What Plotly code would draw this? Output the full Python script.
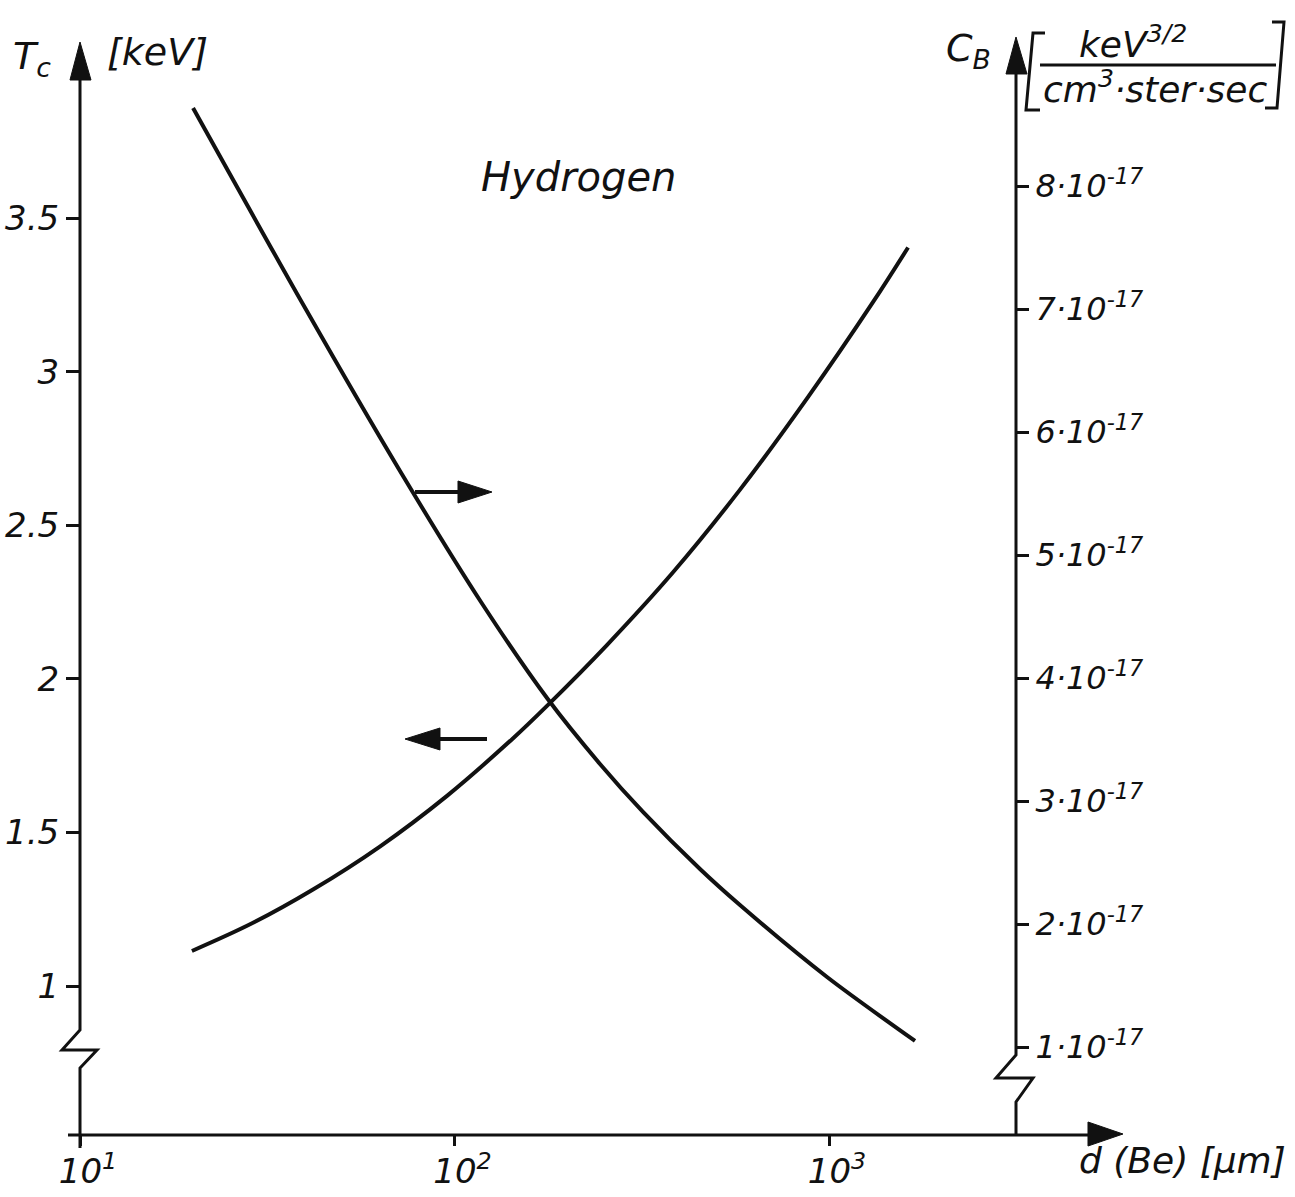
import plotly.graph_objects as go

# Cut-off temperature Tc vs. Be filter thickness (left axis)
d_tc = [19.9, 28.8, 41.9, 63.2, 95.5, 143.2, 176.6, 255.3, 382.8, 578.0, 873.0, 1309.0, 1626.0]
tc_kev = [1.114, 1.204, 1.314, 1.454, 1.619, 1.806, 1.912, 2.110, 2.346, 2.615, 2.912, 3.225, 3.404]

# Bremsstrahlung constant C_B vs. Be filter thickness (right axis, units of 1e-17)
d_cb = [20.04, 39.64, 71.53, 117.7, 176.6, 244.6, 318.6, 452.4, 578.4, 987.9, 1697.0]
cb_e17 = [8.634, 7.024, 5.683, 4.618, 3.837, 3.301, 2.911, 2.447, 2.154, 1.569, 1.049]

x_tickvals = [10, 100, 1000]
x_ticktext = ["10<sup>1</sup>", "10<sup>2</sup>", "10<sup>3</sup>"]
tc_tickvals = [1, 1.5, 2, 2.5, 3, 3.5]
tc_ticktext = ["1", "1.5", "2", "2.5", "3", "3.5"]
cb_tickvals = [1, 2, 3, 4, 5, 6, 7, 8]
cb_ticktext = [f"{v}·10<sup>-17</sup>" for v in cb_tickvals]

FONT = "DejaVu Sans"
INK = "#111111"

# plot frame in page pixels
L, R, T, B = 80, 1120, 40, 1135
PW, PH = R - L, B - T


def px(x):
    return (x - L) / PW


def py(y):
    return (B - y) / PH


def path(points, close=False):
    s = "M " + " L ".join(f"{px(a):.5f},{py(b):.5f}" for a, b in points)
    return s + (" Z" if close else "")


fig = go.Figure()
fig.add_trace(go.Scatter(x=d_tc, y=tc_kev, mode="lines", yaxis="y",
                         line=dict(color=INK, width=4, shape="spline", smoothing=1.0),
                         showlegend=False, hoverinfo="skip"))
fig.add_trace(go.Scatter(x=d_cb, y=cb_e17, mode="lines", yaxis="y2",
                         line=dict(color=INK, width=4, shape="spline", smoothing=0.8),
                         showlegend=False, hoverinfo="skip"))

tickfont = dict(family=FONT, size=34, color=INK, style="italic")
x_log_max = 1 + PW / 374.5

fig.update_layout(
    width=1295, height=1197,
    margin=dict(l=L, r=1295 - R, t=T, b=1197 - B, autoexpand=False),
    paper_bgcolor="white", plot_bgcolor="white",
    xaxis=dict(type="log", range=[1, x_log_max], showgrid=False, zeroline=False,
               showline=False, ticks="outside", ticklen=10, tickwidth=2.5, tickcolor=INK,
               tickvals=x_tickvals, ticktext=x_ticktext, tickfont=tickfont,
               ticklabelshift=8, ticklabelstandoff=-4),
    yaxis=dict(range=[1 - 149 / 307.2, 1 + 946 / 307.2], showgrid=False, zeroline=False,
               showline=False, ticks="outside", ticklen=13, tickwidth=2.5, tickcolor=INK,
               tickvals=tc_tickvals, ticktext=tc_ticktext, tickfont=tickfont),
    yaxis2=dict(range=[1 - 88 / 123, 1 + 1007 / 123], overlaying="y", side="right",
                anchor="free", position=px(1016), showgrid=False, zeroline=False,
                showline=False, ticks="outside", ticklen=12, tickwidth=2.5, tickcolor=INK,
                tickvals=cb_tickvals, ticktext=cb_ticktext,
                tickfont=dict(family=FONT, size=32, color=INK, style="italic")),
)

line = dict(color=INK, width=3)
head = dict(color=INK, width=1)
shapes = []
# left axis with break and arrow head
shapes.append(dict(type="path", xref="paper", yref="paper", line=line,
                   path=path([(80, 1148), (80, 1068), (97, 1050), (62, 1050), (80, 1030), (80, 75)])))
shapes.append(dict(type="path", xref="paper", yref="paper", line=head, fillcolor=INK,
                   path=path([(80, 42), (70, 80), (91, 80)], close=True)))
# right axis with break and arrow head
shapes.append(dict(type="path", xref="paper", yref="paper", line=line,
                   path=path([(1016, 1135), (1016, 1102), (1033, 1078), (996, 1078), (1016, 1055), (1016, 70)])))
shapes.append(dict(type="path", xref="paper", yref="paper", line=head, fillcolor=INK,
                   path=path([(1016, 37), (1006, 74), (1027, 74)], close=True)))
# x axis with arrow head
shapes.append(dict(type="path", xref="paper", yref="paper", line=line,
                   path=path([(68, 1135), (1095, 1135)])))
shapes.append(dict(type="path", xref="paper", yref="paper", line=head, fillcolor=INK,
                   path=path([(1123, 1134), (1088, 1122), (1088, 1146)], close=True)))
# pointer arrows telling which axis each curve belongs to
shapes.append(dict(type="path", xref="paper", yref="paper", line=dict(color=INK, width=4),
                   path=path([(415, 492), (465, 492)])))
shapes.append(dict(type="path", xref="paper", yref="paper", line=head, fillcolor=INK,
                   path=path([(492, 492), (458, 481), (458, 503)], close=True)))
shapes.append(dict(type="path", xref="paper", yref="paper", line=dict(color=INK, width=4),
                   path=path([(487, 739), (435, 739)])))
shapes.append(dict(type="path", xref="paper", yref="paper", line=head, fillcolor=INK,
                   path=path([(405, 739), (440, 728), (440, 750)], close=True)))
# unit fraction: bar and brackets
shapes.append(dict(type="path", xref="paper", yref="paper", line=line,
                   path=path([(1040, 65), (1276, 65)])))
shapes.append(dict(type="path", xref="paper", yref="paper", line=line,
                   path=path([(1045, 33), (1033, 33), (1026, 110), (1040, 110)])))
shapes.append(dict(type="path", xref="paper", yref="paper", line=line,
                   path=path([(1272, 22), (1284, 22), (1277, 108), (1265, 108)])))
fig.update_layout(shapes=shapes)


def label(text, x, y, size=38, xanchor="center"):
    fig.add_annotation(text=text, x=px(x), y=py(y), xref="paper", yref="paper",
                       showarrow=False, xanchor=xanchor, yanchor="middle",
                       font=dict(family=FONT, size=size, color=INK, style="italic"))


label("T<sub>c</sub>", 32, 58)
label("[keV]", 157, 52)
label("C<sub>B</sub>", 968, 50)
label("keV<sup>3/2</sup>", 1133, 42, size=36)
label("cm<sup>3</sup>·ster·sec", 1155, 87, size=36)
label("Hydrogen", 578, 177, size=40)
label("d (Be) [μm]", 1182, 1160, size=36)

fig.write_html("out.html")
